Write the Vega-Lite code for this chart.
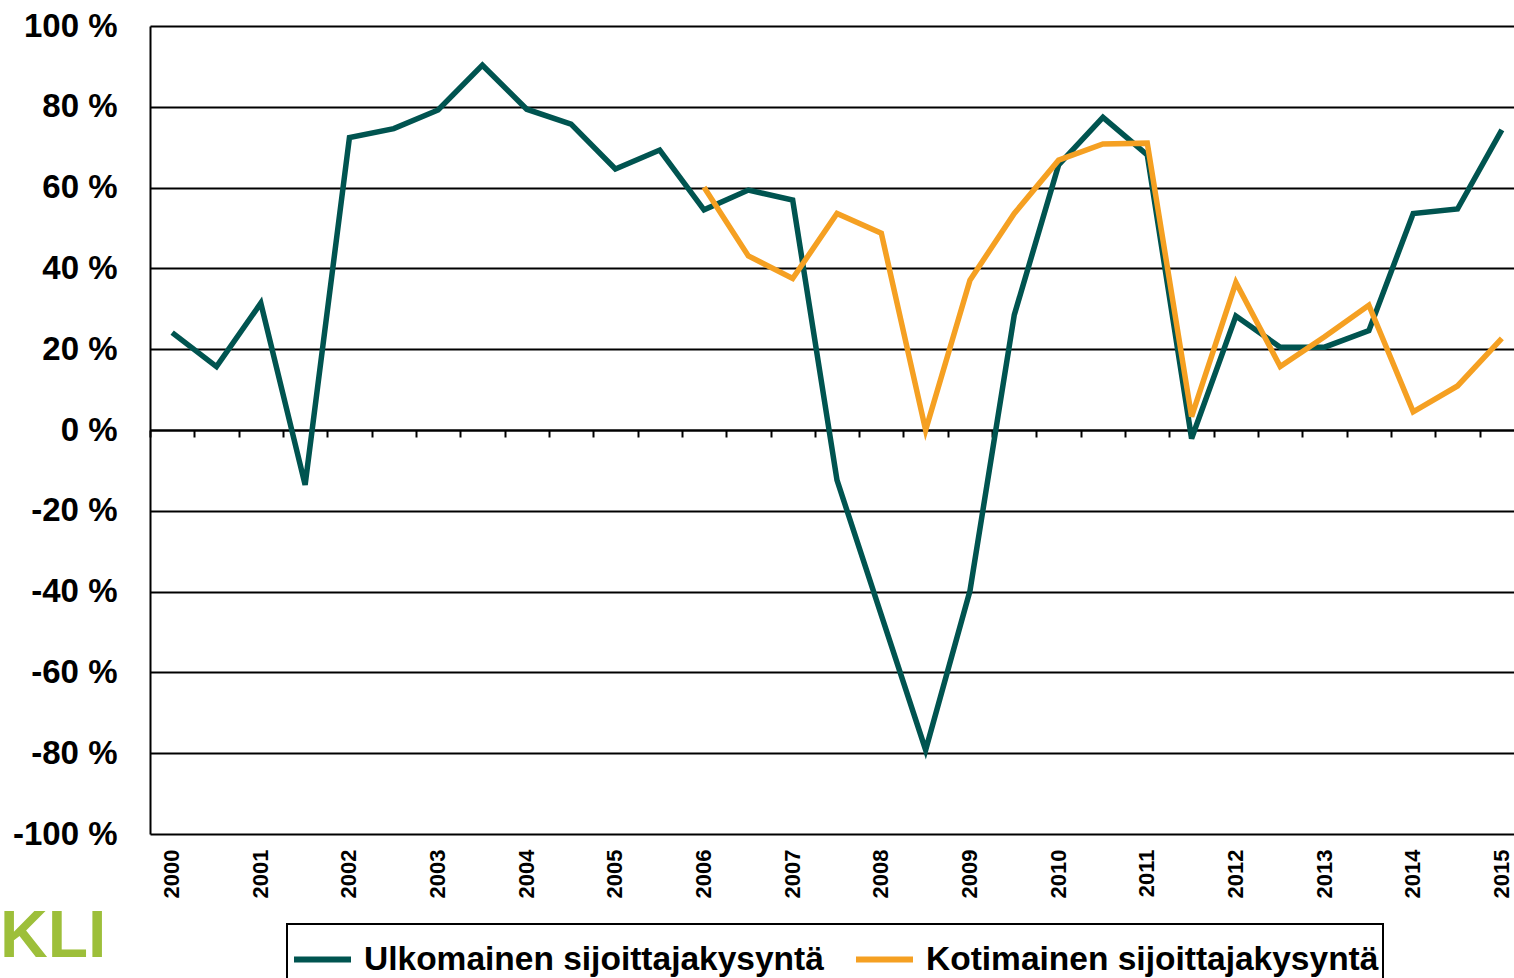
{
  "$schema": "https://vega.github.io/schema/vega-lite/v6.json",
  "width": 1364,
  "height": 808,
  "autosize": {"type": "none"},
  "padding": {"left": 150, "top": 26, "right": 0, "bottom": 144},
  "background": "white",
  "config": {
    "view": {"stroke": null},
    "font": "Liberation Sans"
  },
  "title": {
    "text": "KLI",
    "orient": "bottom",
    "anchor": "start",
    "frame": "group",
    "font": "Liberation Sans",
    "fontSize": 66,
    "fontWeight": "bold",
    "color": "#9dbf3a",
    "offset": -76,
    "dx": -150
  },
  "data": {
    "values": [
      {"t": "2000", "s": "Ulkomainen sijoittajakysyntä", "v": 24.1},
      {"t": "2000.5", "s": "Ulkomainen sijoittajakysyntä", "v": 15.7},
      {"t": "2001", "s": "Ulkomainen sijoittajakysyntä", "v": 31.4},
      {"t": "2001.5", "s": "Ulkomainen sijoittajakysyntä", "v": -13.6},
      {"t": "2002", "s": "Ulkomainen sijoittajakysyntä", "v": 72.4},
      {"t": "2002.5", "s": "Ulkomainen sijoittajakysyntä", "v": 74.6},
      {"t": "2003", "s": "Ulkomainen sijoittajakysyntä", "v": 79.2},
      {"t": "2003.5", "s": "Ulkomainen sijoittajakysyntä", "v": 90.3},
      {"t": "2004", "s": "Ulkomainen sijoittajakysyntä", "v": 79.4},
      {"t": "2004.5", "s": "Ulkomainen sijoittajakysyntä", "v": 75.7},
      {"t": "2005", "s": "Ulkomainen sijoittajakysyntä", "v": 64.6},
      {"t": "2005.5", "s": "Ulkomainen sijoittajakysyntä", "v": 69.3},
      {"t": "2006", "s": "Ulkomainen sijoittajakysyntä", "v": 54.5},
      {"t": "2006.5", "s": "Ulkomainen sijoittajakysyntä", "v": 59.4},
      {"t": "2007", "s": "Ulkomainen sijoittajakysyntä", "v": 56.9},
      {"t": "2007.5", "s": "Ulkomainen sijoittajakysyntä", "v": -12.4},
      {"t": "2008", "s": "Ulkomainen sijoittajakysyntä", "v": -45.8},
      {"t": "2008.5", "s": "Ulkomainen sijoittajakysyntä", "v": -79.2},
      {"t": "2009", "s": "Ulkomainen sijoittajakysyntä", "v": -39.8},
      {"t": "2009.5", "s": "Ulkomainen sijoittajakysyntä", "v": 28.5},
      {"t": "2010", "s": "Ulkomainen sijoittajakysyntä", "v": 65.6},
      {"t": "2010.5", "s": "Ulkomainen sijoittajakysyntä", "v": 77.4},
      {"t": "2011", "s": "Ulkomainen sijoittajakysyntä", "v": 68.1},
      {"t": "2011.5", "s": "Ulkomainen sijoittajakysyntä", "v": -2.1},
      {"t": "2012", "s": "Ulkomainen sijoittajakysyntä", "v": 28.2},
      {"t": "2012.5", "s": "Ulkomainen sijoittajakysyntä", "v": 20.5},
      {"t": "2013", "s": "Ulkomainen sijoittajakysyntä", "v": 20.5},
      {"t": "2013.5", "s": "Ulkomainen sijoittajakysyntä", "v": 24.6},
      {"t": "2014", "s": "Ulkomainen sijoittajakysyntä", "v": 53.6},
      {"t": "2014.5", "s": "Ulkomainen sijoittajakysyntä", "v": 54.7},
      {"t": "2015", "s": "Ulkomainen sijoittajakysyntä", "v": 74.3},
      {"t": "2006", "s": "Kotimainen sijoittajakysyntä", "v": 60.1},
      {"t": "2006.5", "s": "Kotimainen sijoittajakysyntä", "v": 43.1},
      {"t": "2007", "s": "Kotimainen sijoittajakysyntä", "v": 37.5},
      {"t": "2007.5", "s": "Kotimainen sijoittajakysyntä", "v": 53.6},
      {"t": "2008", "s": "Kotimainen sijoittajakysyntä", "v": 48.7},
      {"t": "2008.5", "s": "Kotimainen sijoittajakysyntä", "v": 0.0},
      {"t": "2009", "s": "Kotimainen sijoittajakysyntä", "v": 37.1},
      {"t": "2009.5", "s": "Kotimainen sijoittajakysyntä", "v": 53.6},
      {"t": "2010", "s": "Kotimainen sijoittajakysyntä", "v": 66.8},
      {"t": "2010.5", "s": "Kotimainen sijoittajakysyntä", "v": 70.8},
      {"t": "2011", "s": "Kotimainen sijoittajakysyntä", "v": 71.0},
      {"t": "2011.5", "s": "Kotimainen sijoittajakysyntä", "v": 3.3},
      {"t": "2012", "s": "Kotimainen sijoittajakysyntä", "v": 36.5},
      {"t": "2012.5", "s": "Kotimainen sijoittajakysyntä", "v": 15.7},
      {"t": "2013", "s": "Kotimainen sijoittajakysyntä", "v": 23.1},
      {"t": "2013.5", "s": "Kotimainen sijoittajakysyntä", "v": 30.9},
      {"t": "2014", "s": "Kotimainen sijoittajakysyntä", "v": 4.5},
      {"t": "2014.5", "s": "Kotimainen sijoittajakysyntä", "v": 10.9},
      {"t": "2015", "s": "Kotimainen sijoittajakysyntä", "v": 22.7}
    ]
  },
  "resolve": {"axis": {"x": "independent"}},
  "layer": [
    {
      "transform": [{"filter": "datum.s === 'Ulkomainen sijoittajakysyntä'"}],
      "mark": {"type": "line", "strokeWidth": 5.5, "strokeJoin": "miter", "clip": false},
      "encoding": {
        "x": {
          "field": "t", "type": "ordinal", "bandPosition": 0.5,
          "scale": {"type": "band", "paddingInner": 0, "paddingOuter": 0, "range": [0, 1374]},
          "axis": {
            "title": null, "orient": "bottom", "domain": false, "ticks": false, "grid": false,
            "labelAngle": -90, "labelFontSize": 22, "labelFontWeight": "bold", "labelColor": "black",
            "labelPadding": 15, "labelOverlap": false,
            "labelExpr": "indexof(datum.label, '.') >= 0 ? '' : datum.label"
          }
        },
        "y": {
          "field": "v", "type": "quantitative",
          "scale": {"domain": [-100, 100], "nice": false, "zero": false},
          "axis": {
            "title": null, "values": [-100, -80, -60, -40, -20, 0, 20, 40, 60, 80, 100],
            "labelExpr": "datum.value + ' %'", "labelFontSize": 33, "labelFontWeight": "bold",
            "labelColor": "black", "labelPadding": 33, "ticks": false,
            "domain": true, "domainColor": "black", "domainWidth": 2,
            "grid": true, "gridColor": "black", "gridWidth": 2, "gridOpacity": 1
          }
        },
        "color": {
          "field": "s", "type": "nominal",
          "scale": {"domain": ["Ulkomainen sijoittajakysyntä", "Kotimainen sijoittajakysyntä"], "range": ["#005450", "#f5a022"]},
          "legend": {
            "orient": "none", "legendX": 137, "legendY": 898, "direction": "horizontal",
            "title": null, "symbolType": "stroke", "symbolSize": 3249, "symbolStrokeWidth": 6,
            "labelFontSize": 33.5, "labelFontWeight": "bold", "labelColor": "black", "labelLimit": 1000,
            "labelOffset": 10, "columnPadding": 20, "padding": 4,
            "strokeColor": "black", "fillColor": "white",
            "encode": {"legend": {"update": {"strokeWidth": {"value": 2}}}}
          }
        }
      }
    },
    {
      "transform": [{"filter": "datum.s === 'Kotimainen sijoittajakysyntä'"}],
      "mark": {"type": "line", "strokeWidth": 5.5, "strokeJoin": "miter", "clip": false},
      "encoding": {
        "x": {
          "field": "t", "type": "ordinal", "bandPosition": 0.5,
          "axis": {
            "title": null, "orient": "bottom", "offset": -404, "labels": false, "grid": false,
            "domain": true, "domainColor": "black", "domainWidth": 2,
            "ticks": true, "tickBand": "extent", "tickSize": 7, "tickWidth": 2, "tickColor": "black"
          }
        },
        "y": {"field": "v", "type": "quantitative"},
        "color": {"field": "s", "type": "nominal"}
      }
    }
  ]
}
